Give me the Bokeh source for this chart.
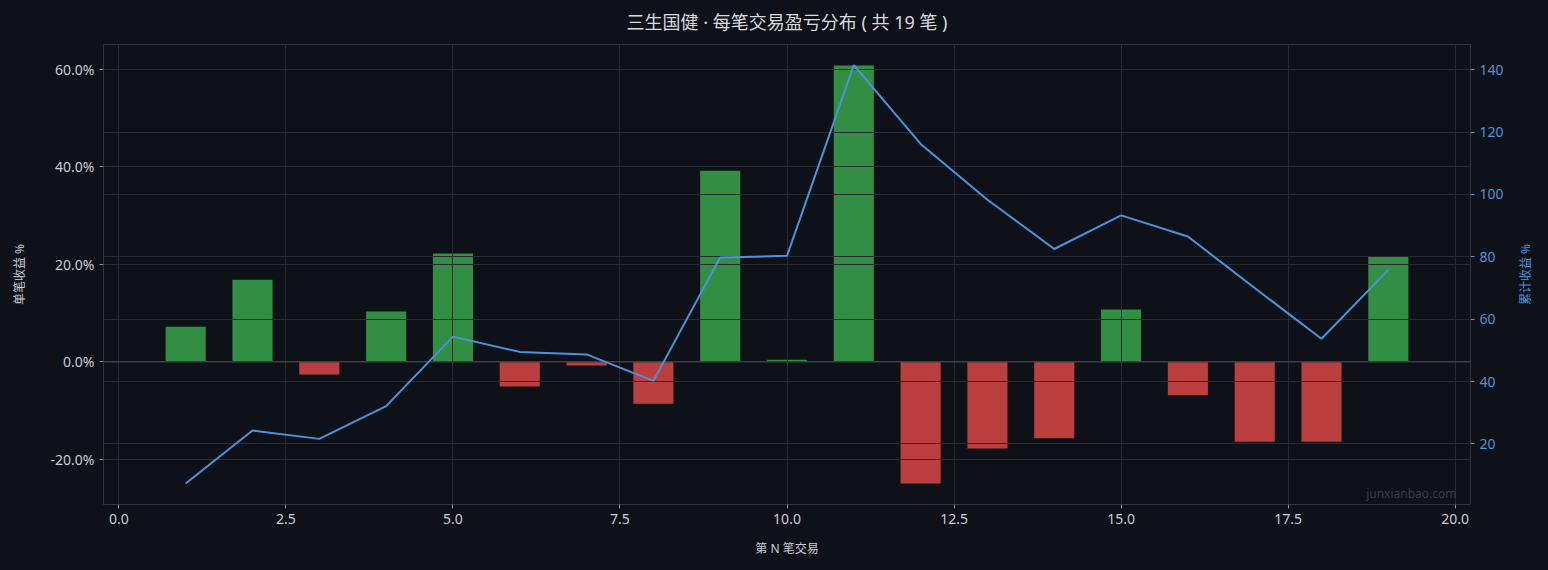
import math
from bokeh.plotting import figure
from bokeh.models import (Range1d, LinearAxis, FixedTicker, PrintfTickFormatter,
                          Span, Label, ColumnDataSource, Grid)
from bokeh.embed import file_html
from bokeh.resources import INLINE

# ---- data ----
trade_no = [1, 2, 3, 4, 5, 6, 7, 8, 9, 10, 11, 12, 13, 14, 15, 16, 17, 18, 19]
trade_ret = [7.2, 16.8, -2.6, 10.3, 22.2, -5.1, -0.8, -8.6, 39.2, 0.4,
             60.8, -25.0, -17.8, -15.7, 10.7, -6.9, -16.4, -16.4, 21.5]
cum_ret = [7.3, 24.3, 21.6, 32.1, 54.4, 49.5, 48.7, 40.2, 79.8, 80.3,
           141.5, 116.2, 98.3, 82.5, 93.3, 86.5, 70.0, 53.7, 75.8]
x_ticks = [0, 2.5, 5, 7.5, 10, 12.5, 15, 17.5, 20]
left_ticks = [-20, 0, 20, 40, 60]
right_ticks = [20, 40, 60, 80, 100, 120, 140]

BG = "#0e1117"
GRID = "#272b33"
TXT = "#c9cdd3"
BLUE = "#4a94dc"
GREEN = "#318e42"
RED = "#bb3f3f"
FONT = "'Noto Sans', 'Noto Sans CJK SC'"

colors = [GREEN if v >= 0 else RED for v in trade_ret]
src = ColumnDataSource(dict(x=trade_no, top=trade_ret, color=colors))

p = figure(width=1548, height=570, output_backend="svg", toolbar_location=None,
           x_range=Range1d(-0.23, 20.23), y_range=Range1d(-29.3, 65.1),
           title="三生国健 · 每笔交易盈亏分布 ( 共 19 笔 )",
           min_border_left=103, min_border_right=78, min_border_top=44,
           min_border_bottom=66)
p.extra_y_ranges = {"cum": Range1d(0.55, 148.1)}

p.background_fill_color = BG
p.border_fill_color = BG
p.outline_line_color = "#30343c"
p.outline_line_width = 1

p.title.align = "center"
p.title.vertical_align = "top"
p.title.text_color = "#d7dadf"
p.title.text_font = FONT
p.title.text_font_size = "18px"
p.title.text_font_style = "normal"
p.title.standoff = 17

p.vbar(x="x", top="top", bottom=0, width=0.6, fill_color="color",
       line_color=None, source=src)

p.line(trade_no, cum_ret, y_range_name="cum", line_color=BLUE, line_width=2,
       level="overlay")

# grids
p.xgrid.ticker = FixedTicker(ticks=x_ticks)
p.ygrid.ticker = FixedTicker(ticks=left_ticks)
for g in (p.xgrid[0], p.ygrid[0]):
    g.grid_line_color = GRID
    g.grid_line_width = 1
    g.level = "annotation"
rgrid = Grid(dimension=1, ticker=FixedTicker(ticks=right_ticks), y_range_name="cum",
             grid_line_color=GRID, grid_line_width=1, level="annotation")
p.add_layout(rgrid)

zero = Span(location=0, dimension="width", line_color="#3a3f47", line_width=1.5,
            level="annotation")
p.add_layout(zero)

# axes
xa = p.xaxis[0]
xa.ticker = FixedTicker(ticks=x_ticks)
xa.formatter = PrintfTickFormatter(format="%.1f")
xa.axis_label = "第 N 笔交易"

ya = p.yaxis[0]
ya.ticker = FixedTicker(ticks=left_ticks)
ya.formatter = PrintfTickFormatter(format="%.1f%%")
ya.axis_label = "单笔收益 %"

ra = LinearAxis(y_range_name="cum", ticker=FixedTicker(ticks=right_ticks))
p.add_layout(ra, "right")

for ax, col in ((xa, TXT), (ya, TXT), (ra, BLUE)):
    ax.axis_line_color = None
    ax.major_tick_line_color = "#8a8f98" if col == TXT else BLUE
    ax.major_tick_in = 0
    ax.major_tick_out = 4
    ax.minor_tick_line_color = None
    ax.major_label_text_color = col
    ax.major_label_text_font = FONT
    ax.major_label_text_font_size = "14px"
    ax.major_label_standoff = 5
    ax.axis_label_text_color = col
    ax.axis_label_text_font = FONT
    ax.axis_label_text_font_size = "12px"
    ax.axis_label_text_font_style = "normal"
xa.axis_label_standoff = 13
ya.axis_label_standoff = 20

# right axis title (bottom-to-top, like the left one), placed in the right panel
rlab = Label(x=19, y=230, x_units="screen", y_units="screen", text="累计收益 %",
             angle=math.pi / 2, text_color=BLUE, text_font=FONT,
             text_font_size="12px", text_align="center", text_baseline="middle")
p.add_layout(rlab, "right")

wm = Label(x=1353, y=11, x_units="screen", y_units="screen", text="junxianbao.com",
           text_color="#3a3e46", text_font=FONT, text_font_size="12px",
           text_align="right", text_baseline="middle")
p.add_layout(wm)

html = file_html(p, INLINE)
html = html.replace("</head>",
                    "<style>html,body{background:%s;}</style></head>" % BG, 1)
open("out.html", "w").write(html)
